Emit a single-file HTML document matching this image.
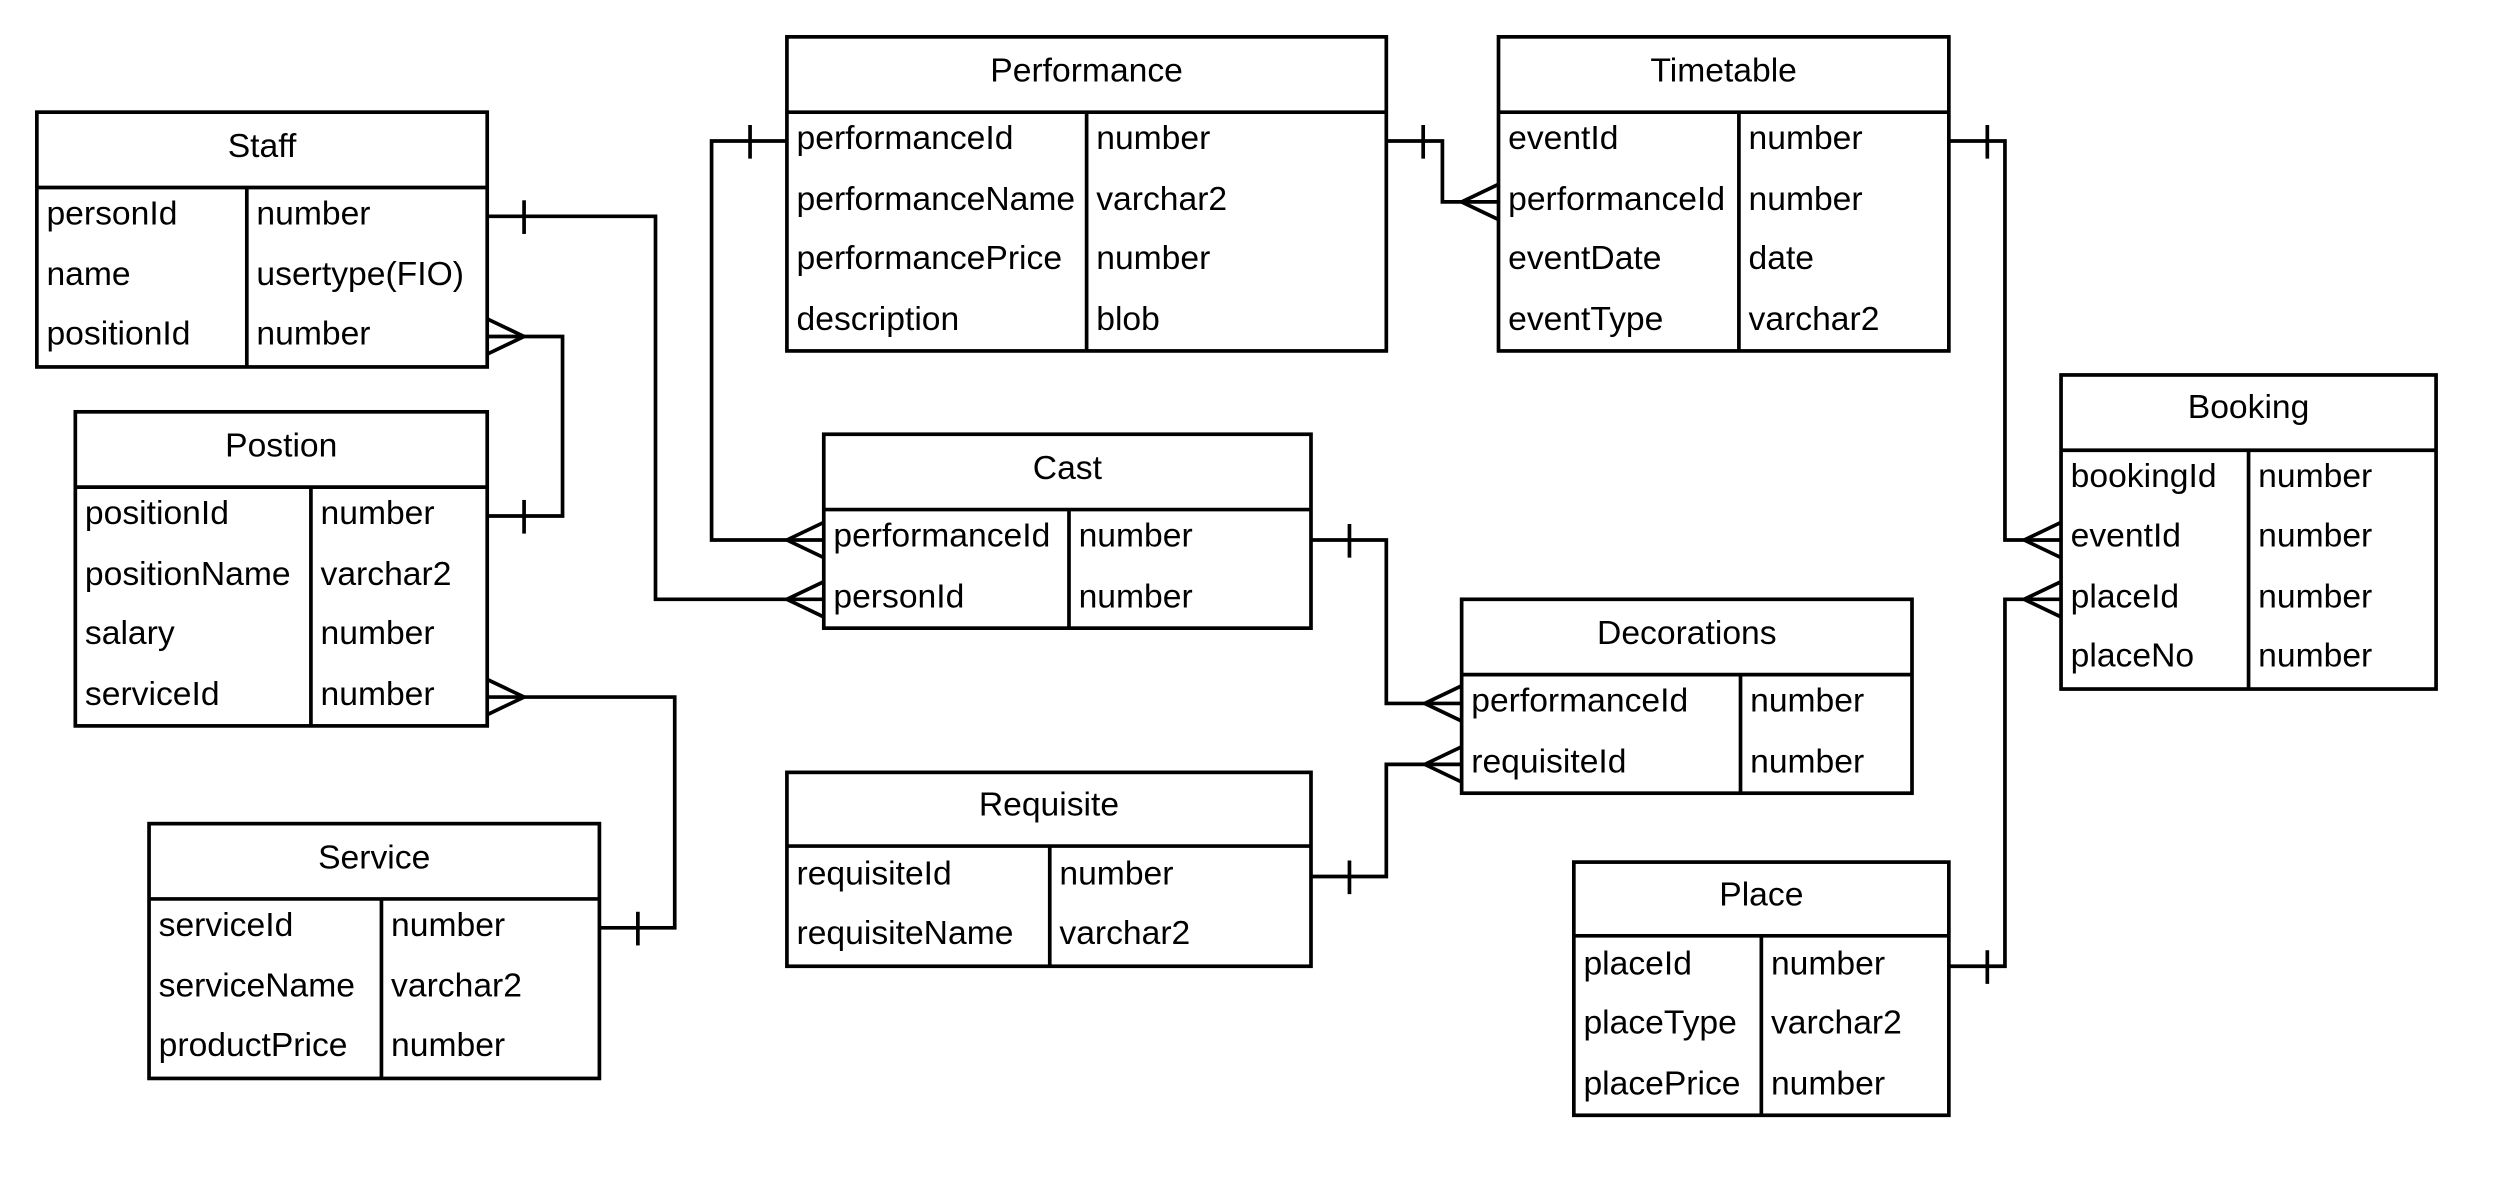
<!DOCTYPE html>
<html><head><meta charset="utf-8"><style>
html,body{margin:0;padding:0;background:#fff;}
svg{display:block;}
text{font-family:"Liberation Sans",Arial,sans-serif;font-size:21px;fill:#000;}
</style></head><body>
<svg width="2513" height="1193" viewBox="0 0 1568 744.5" preserveAspectRatio="none" xmlns="http://www.w3.org/2000/svg">
<g fill="none" stroke="#000" stroke-width="2.3">
<rect x="23" y="70" width="281" height="159"/><line x1="23" y1="117" x2="304" y2="117"/><line x1="154" y1="117" x2="154" y2="229"/>
<rect x="47" y="257" width="257" height="196"/><line x1="47" y1="304" x2="304" y2="304"/><line x1="194" y1="304" x2="194" y2="453"/>
<rect x="93" y="514" width="281" height="159"/><line x1="93" y1="561" x2="374" y2="561"/><line x1="238" y1="561" x2="238" y2="673"/>
<rect x="491" y="23" width="374" height="196"/><line x1="491" y1="70" x2="865" y2="70"/><line x1="678" y1="70" x2="678" y2="219"/>
<rect x="935" y="23" width="281" height="196"/><line x1="935" y1="70" x2="1216" y2="70"/><line x1="1085" y1="70" x2="1085" y2="219"/>
<rect x="514" y="271" width="304" height="121"/><line x1="514" y1="318" x2="818" y2="318"/><line x1="667" y1="318" x2="667" y2="392"/>
<rect x="912" y="374" width="281" height="121"/><line x1="912" y1="421" x2="1193" y2="421"/><line x1="1086" y1="421" x2="1086" y2="495"/>
<rect x="491" y="482" width="327" height="121"/><line x1="491" y1="528" x2="818" y2="528"/><line x1="655" y1="528" x2="655" y2="603"/>
<rect x="1286" y="234" width="234" height="196"/><line x1="1286" y1="281" x2="1520" y2="281"/><line x1="1403" y1="281" x2="1403" y2="430"/>
<rect x="982" y="538" width="234" height="158"/><line x1="982" y1="584" x2="1216" y2="584"/><line x1="1099" y1="584" x2="1099" y2="696"/>

<polyline points="304,135 409,135 409,374 514,374"/><line x1="327" y1="125" x2="327" y2="146"/>
<path d="M491,374 L514,363 M491,374 L514,385"/>
<polyline points="304,210 351,210 351,322 304,322"/><line x1="327" y1="312" x2="327" y2="333"/>
<path d="M327,210 L304,199 M327,210 L304,221"/>
<polyline points="304,435 421,435 421,579 374,579"/><line x1="398" y1="569" x2="398" y2="590"/>
<path d="M327,435 L304,424 M327,435 L304,446"/>
<polyline points="491,88 444,88 444,337 514,337"/><line x1="468" y1="78" x2="468" y2="99"/>
<path d="M491,337 L514,326 M491,337 L514,348"/>
<polyline points="865,88 900,88 900,126 935,126"/><line x1="888" y1="78" x2="888" y2="99"/>
<path d="M912,126 L935,115 M912,126 L935,137"/>
<polyline points="1216,88 1251,88 1251,337 1286,337"/><line x1="1240" y1="78" x2="1240" y2="99"/>
<path d="M1263,337 L1286,326 M1263,337 L1286,348"/>
<polyline points="1216,603 1251,603 1251,374 1286,374"/><line x1="1240" y1="593" x2="1240" y2="614"/>
<path d="M1263,374 L1286,363 M1263,374 L1286,385"/>
<polyline points="818,337 865,337 865,439 912,439"/><line x1="842" y1="327" x2="842" y2="348"/>
<path d="M889,439 L912,428 M889,439 L912,450"/>
<polyline points="818,547 865,547 865,477 912,477"/><line x1="842" y1="537" x2="842" y2="558"/>
<path d="M889,477 L912,466 M889,477 L912,488"/>
</g>
<g>
<text x="163.5" y="98" text-anchor="middle">Staff</text>
<text x="29" y="140">personId</text><text x="160" y="140">number</text>
<text x="29" y="178">name</text><text x="160" y="178">usertype(FIO)</text>
<text x="29" y="215">positionId</text><text x="160" y="215">number</text>

<text x="175.5" y="285" text-anchor="middle">Postion</text>
<text x="53" y="327">positionId</text><text x="200" y="327">number</text>
<text x="53" y="365">positionName</text><text x="200" y="365">varchar2</text>
<text x="53" y="402">salary</text><text x="200" y="402">number</text>
<text x="53" y="440">serviceId</text><text x="200" y="440">number</text>

<text x="233.5" y="542" text-anchor="middle">Service</text>
<text x="99" y="584">serviceId</text><text x="244" y="584">number</text>
<text x="99" y="622">serviceName</text><text x="244" y="622">varchar2</text>
<text x="99" y="659">productPrice</text><text x="244" y="659">number</text>

<text x="678" y="51" text-anchor="middle">Performance</text>
<text x="497" y="93">performanceId</text><text x="684" y="93">number</text>
<text x="497" y="131">performanceName</text><text x="684" y="131">varchar2</text>
<text x="497" y="168">performancePrice</text><text x="684" y="168">number</text>
<text x="497" y="206">description</text><text x="684" y="206">blob</text>

<text x="1075.5" y="51" text-anchor="middle">Timetable</text>
<text x="941" y="93">eventId</text><text x="1091" y="93">number</text>
<text x="941" y="131">performanceId</text><text x="1091" y="131">number</text>
<text x="941" y="168">eventDate</text><text x="1091" y="168">date</text>
<text x="941" y="206">eventType</text><text x="1091" y="206">varchar2</text>

<text x="666" y="299" text-anchor="middle">Cast</text>
<text x="520" y="341">performanceId</text><text x="673" y="341">number</text>
<text x="520" y="379">personId</text><text x="673" y="379">number</text>

<text x="1052.5" y="402" text-anchor="middle">Decorations</text>
<text x="918" y="444">performanceId</text><text x="1092" y="444">number</text>
<text x="918" y="482">requisiteId</text><text x="1092" y="482">number</text>

<text x="654.5" y="509" text-anchor="middle">Requisite</text>
<text x="497" y="552">requisiteId</text><text x="661" y="552">number</text>
<text x="497" y="589">requisiteName</text><text x="661" y="589">varchar2</text>

<text x="1403" y="261" text-anchor="middle">Booking</text>
<text x="1292" y="304">bookingId</text><text x="1409" y="304">number</text>
<text x="1292" y="341">eventId</text><text x="1409" y="341">number</text>
<text x="1292" y="379">placeId</text><text x="1409" y="379">number</text>
<text x="1292" y="416">placeNo</text><text x="1409" y="416">number</text>

<text x="1099" y="565" text-anchor="middle">Place</text>
<text x="988" y="608">placeId</text><text x="1105" y="608">number</text>
<text x="988" y="645">placeType</text><text x="1105" y="645">varchar2</text>
<text x="988" y="683">placePrice</text><text x="1105" y="683">number</text>
</g>
</svg>
</body></html>
